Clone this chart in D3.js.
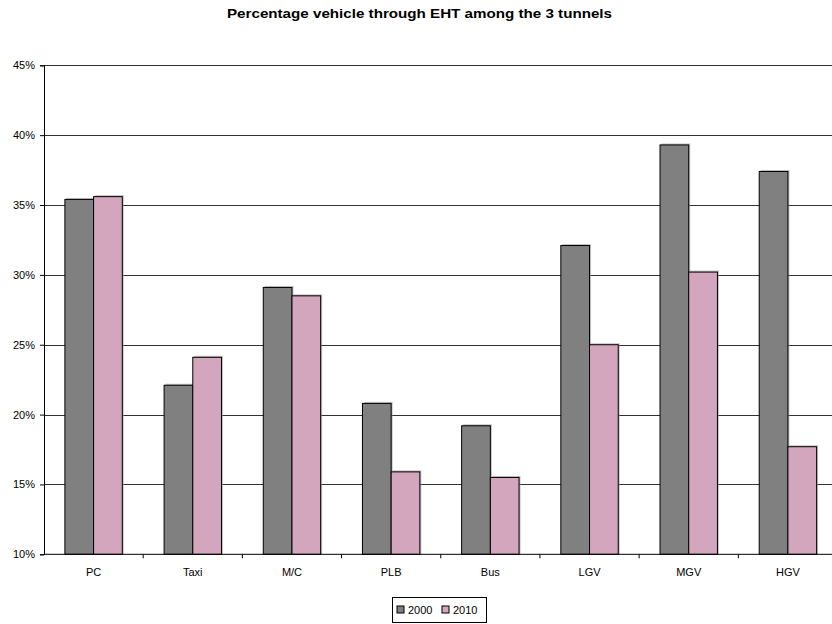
<!DOCTYPE html>
<html><head><meta charset="utf-8">
<script src="https://cdn.jsdelivr.net/npm/d3@7/dist/d3.min.js"></script>
<style>body{margin:0;background:#fff}svg{display:block}text{font-family:"Liberation Sans",Arial,sans-serif}</style>
</head><body>
<svg id="c" width="832" height="624"></svg>
<script>
const categories = ["PC","Taxi","M/C","PLB","Bus","LGV","MGV","HGV"];
const seriesNames = ["2000","2010"];
const values2000 = [35.4,22.1,29.1,20.8,19.2,32.1,39.3,37.4];
const values2010 = [35.6,24.1,28.5,15.9,15.5,25.0,30.2,17.7];
const yTicks = [10,15,20,25,30,35,40,45];
const colors = ["#808080","#d4a6be"];

const svg = d3.select("#c");
const x0 = 44, x1 = 837.5, yTop = 65.3, yBot = 554.3;
const x = d3.scaleBand().domain(categories).range([x0,x1]).paddingInner(0).paddingOuter(0);
const y = d3.scaleLinear().domain([10,45]).range([yBot,yTop]);
const bw = 28.7;

svg.append("text").attr("x",227).attr("y",17.5)
  .attr("font-size",12.5).attr("font-weight","bold")
  .attr("textLength",385).attr("lengthAdjust","spacingAndGlyphs")
  .text("Percentage vehicle through EHT among the 3 tunnels");

// gridlines
svg.append("g").selectAll("line").data(yTicks.slice(1)).join("line")
  .attr("x1",x0).attr("x2",832).attr("y1",d=>Math.round(y(d))+0.5).attr("y2",d=>Math.round(y(d))+0.5)
  .attr("stroke","#333").attr("stroke-width",1);

// bars
const data = categories.map((c,i)=>({c, v:[values2000[i],values2010[i]]}));
const g = svg.append("g");
data.forEach(d=>{
  const cx = x(d.c)+x.bandwidth()/2;
  d.v.forEach((v,j)=>{
    const bx = cx - bw + j*bw;
    g.append("rect").attr("x",bx+1.5).attr("y",y(v)-1.5).attr("width",bw).attr("height",yBot-y(v)+1.5)
      .attr("fill","#999").attr("opacity",0.6);
    g.append("rect").attr("x",bx).attr("y",y(v)).attr("width",bw).attr("height",yBot-y(v))
      .attr("fill",colors[j]).attr("stroke","#000").attr("stroke-width",1);
  });
});

// axes
const ya = d3.axisLeft(y).tickValues(yTicks).tickFormat(d=>d+"%").tickSize(4).tickPadding(5);
const yg = svg.append("g").attr("transform",`translate(${x0},0)`).call(ya);
yg.selectAll("text").attr("font-size",11).attr("fill","#000").attr("font-family","Liberation Sans, Arial, sans-serif");
yg.selectAll("line,path").attr("stroke","#000");

svg.append("line").attr("x1",x0).attr("x2",832).attr("y1",yBot).attr("y2",yBot).attr("stroke","#000");
svg.append("g").selectAll("line").data(categories.slice(1)).join("line")
  .attr("x1",d=>x(d)).attr("x2",d=>x(d)).attr("y1",yBot).attr("y2",yBot+4).attr("stroke","#000");
svg.append("g").selectAll("text").data(categories).join("text")
  .attr("x",d=>x(d)+x.bandwidth()/2).attr("y",yBot+22).attr("text-anchor","middle")
  .attr("font-size",11).text(d=>d);

// legend
const lg = svg.append("g");
lg.append("rect").attr("x",392.5).attr("y",597.5).attr("width",94).attr("height",25).attr("fill","#fff").attr("stroke","#000");
seriesNames.forEach((s,i)=>{
  const lx = 397 + i*45;
  lg.append("rect").attr("x",lx).attr("y",606).attr("width",7).attr("height",7).attr("fill",colors[i]).attr("stroke","#000");
  lg.append("text").attr("x",lx+11).attr("y",614).attr("font-size",11).text(s);
});
</script>
</body></html>
